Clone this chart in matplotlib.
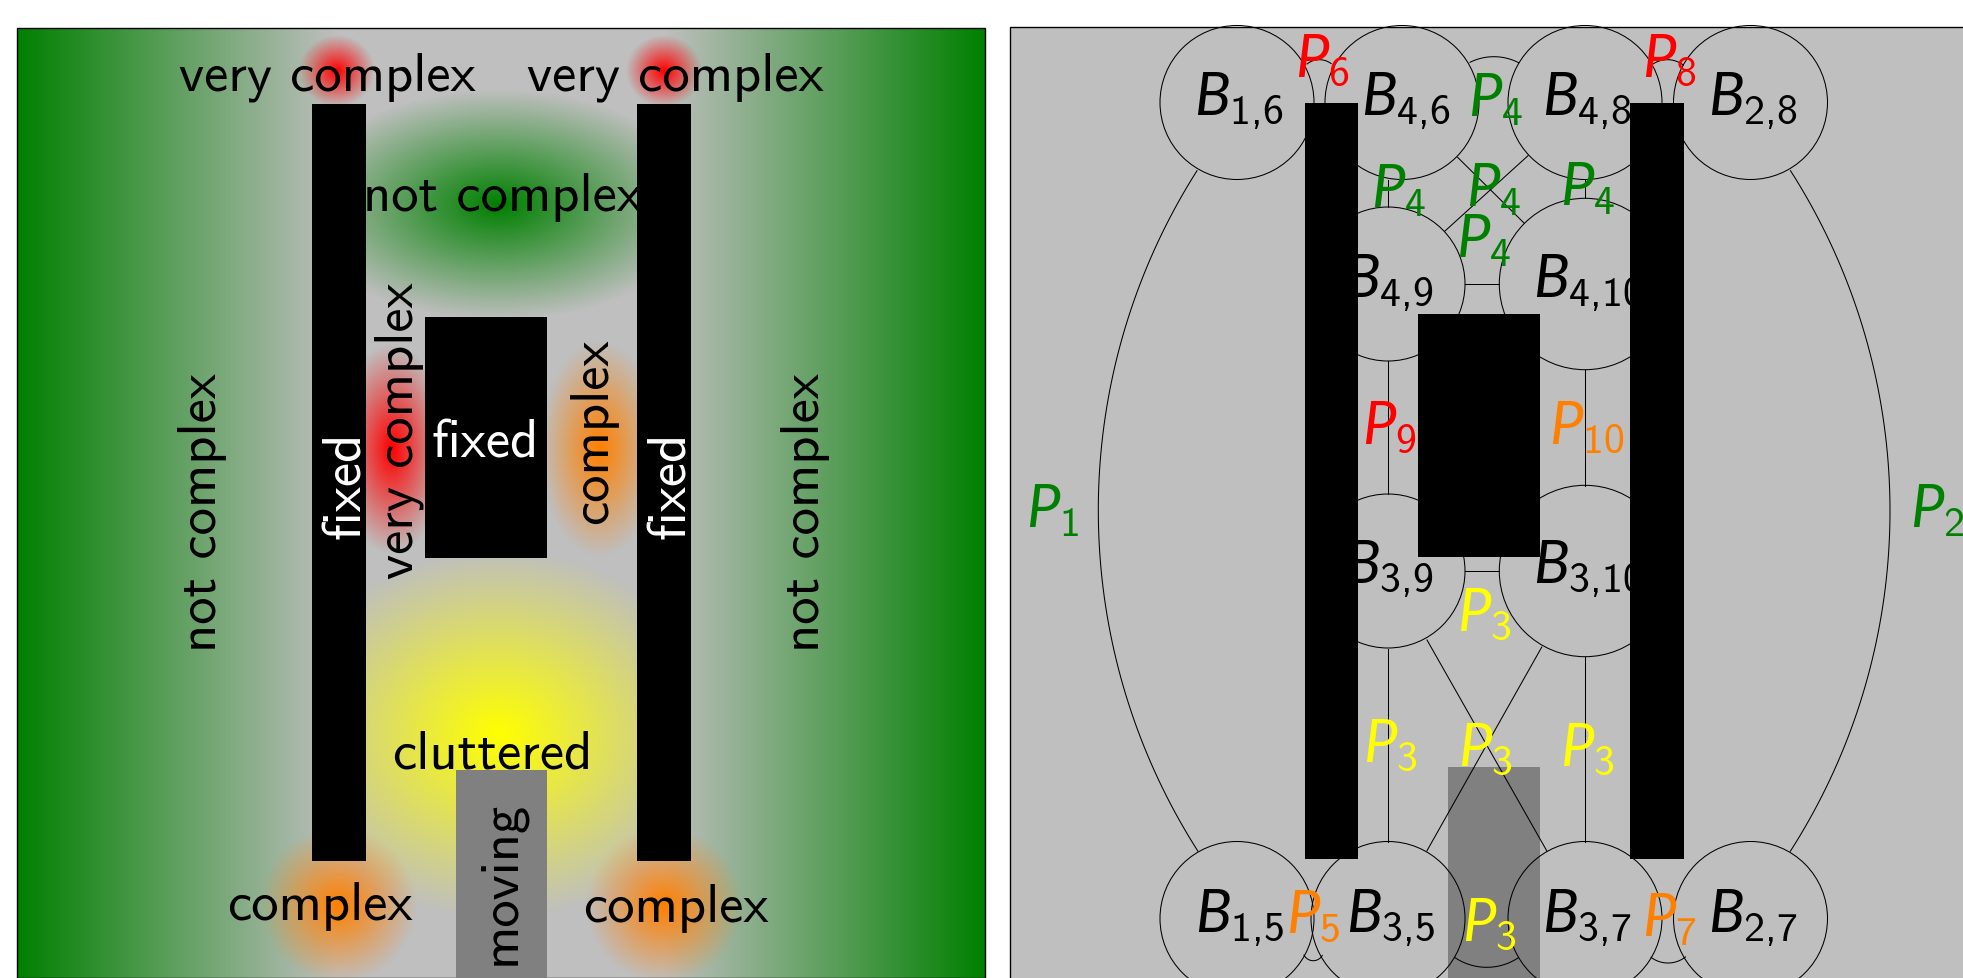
import numpy as np
import matplotlib
matplotlib.use("Agg")
import matplotlib.pyplot as plt
from matplotlib.patches import Circle, Rectangle

plt.rcParams["mathtext.fontset"] = "custom"
plt.rcParams["mathtext.rm"] = "cmss10"
plt.rcParams["mathtext.it"] = "Lato:italic"
plt.rcParams["mathtext.bf"] = "cmss10"
plt.rcParams["axes.unicode_minus"] = False

W, H = 1963, 979
GREEN, GRAY, RED, ORANGE, YELLOW = "#008000", "#bfbfbf", "#ff0000", "#ff8000", "#ffff00"
FS = 39.3
MFS = 43

# ---- left panel
left_panel = (17, 29, 985, 979)
side_fade = (337, 664)
inner_gap = (365.5, 637)
glows = [  # cx, cy, rx, ry, colour, only between the two tall bars
    (499, 206, 205, 115, GREEN, True),
    (499, 735, 220, 185, YELLOW, True),
    (392, 450, 55, 105, RED, False),
    (600, 450, 60, 108, ORANGE, False),
    (337, 72, 38, 36, RED, False),
    (664, 72, 38, 36, RED, False),
    (339, 906, 78, 78, ORANGE, False),
    (664, 906, 78, 78, ORANGE, False),
]
left_black = [(312, 105, 365.5, 862), (637, 105, 690.6, 862), (425, 318, 547, 559)]
left_gray = [(456, 771, 547, 979)]
left_words = ["very complex", "very complex", "not complex", "fixed", "complex",
              "complex", "cluttered"]
left_word_xy = [(327, 90.5), (675.5, 90.5), (502, 211), (485.5, 458), (320, 920),
                (675.5, 922), (492.5, 769)]
left_word_col = ["k", "k", "k", "w", "k", "k", "k"]
up_words = ["very complex", "complex", "not complex", "not complex", "fixed", "fixed", "moving"]
up_word_xy = [(412, 431), (607, 431), (216, 513), (819, 513), (360, 485), (685, 485), (514.5, 883)]
up_word_col = ["k", "k", "k", "k", "w", "w", "k"]

# ---- right panel
right_panel = (1010, 28, 2100, 1100)
circle_names = ["B16", "B46", "B48", "B28", "B49", "B410", "B39", "B310", "B15", "B35", "B37", "B27"]
circle_xy = [(1237, 103.5), (1402, 103.5), (1585, 103.5), (1750.5, 103.5), (1388, 285), (1585, 285),
             (1388, 572), (1585, 572), (1237, 919.5), (1388, 919.5), (1585, 919.5), (1750.5, 919.5)]
circle_r = [77, 77, 77, 77, 77, 85.7, 77, 85.7, 77, 77, 77, 77]
straight = [
    ((1457.6, 158.3), (1524, 224)), ((1528, 156.7), (1445, 232)),
    ((1388, 181), (1388, 207.7)), ((1585, 181), (1585, 199)),
    ((1465, 285), (1499, 285)), ((1388, 362), (1388, 495)), ((1585, 370.7), (1585, 486.7)),
    ((1465, 572), (1499, 572)), ((1388, 650), (1388, 842.5)), ((1585, 657.7), (1585, 842.5)),
    ((1427, 641), (1546.7, 851.7)), ((1541.8, 648), (1427, 851.7)),
]
arcs = [
    ((1197, 171.7), (1098.3, 512), (1197.8, 852)),
    ((1790.5, 171.7), (1890, 512), (1790.5, 852)),
    ((1470, 63.3), (1494.5, 57.7), (1517.8, 63.3)),
    ((1307, 65), (1319, 60.7), (1331.7, 65)),
    ((1653, 65), (1668.3, 60.7), (1681.8, 65)),
    ((1304, 956), (1313, 961.7), (1322.5, 956)),
    ((1651, 958.3), (1668.3, 964), (1685, 958.3)),
    ((1454.5, 958.3), (1486.5, 968.3), (1519, 958.3)),
]
right_black = [(1304.7, 103.5, 1358, 860), (1630, 103.5, 1684, 860), (1418, 315, 1540, 557.7)]
right_gray = [(1448, 768, 1540, 1100)]
b_labels = [r"$B_{1{,}6}$", r"$B_{4{,}6}$", r"$B_{4{,}8}$", r"$B_{2{,}8}$", r"$B_{4{,}9}$", r"$B_{4{,}10}$",
            r"$B_{3{,}9}$", r"$B_{3{,}10}$", r"$B_{1{,}5}$", r"$B_{3{,}5}$", r"$B_{3{,}7}$", r"$B_{2{,}7}$"]
b_xy = [(1194, 115), (1361, 115), (1542.5, 115), (1707.7, 115), (1344, 296.7), (1533, 296.7),
        (1344, 583), (1533, 583), (1195, 931.7), (1346, 931.7), (1542.5, 931.7), (1707.7, 931.7)]
p_labels = ["$P_{6}$", "$P_{8}$", "$P_{4}$", "$P_{4}$", "$P_{4}$", "$P_{4}$", "$P_{4}$",
            "$P_{9}$", "$P_{10}$", "$P_{1}$", "$P_{2}$", "$P_{3}$", "$P_{3}$", "$P_{3}$", "$P_{3}$",
            "$P_{3}$", "$P_{5}$", "$P_{7}$"]
p_xy = [(1295, 76.7), (1642, 76.7), (1468, 116.7), (1371, 208), (1466.5, 206.7), (1559.5, 206),
        (1456, 258), (1362, 444), (1549, 444), (1026, 527.7), (1910, 527.7), (1457, 631),
        (1363, 762), (1458.5, 766), (1559.5, 766), (1461.5, 940.7), (1286.5, 933), (1641.5, 935.7)]
p_col = [RED, RED, GREEN, GREEN, GREEN, GREEN, GREEN, RED, ORANGE, GREEN, GREEN, YELLOW,
         YELLOW, YELLOW, YELLOW, YELLOW, ORANGE, ORANGE]

# ---- drawing
fig = plt.figure(figsize=(W / 100, H / 100), dpi=100)
ax = fig.add_axes([0, 0, 1, 1])
ax.set_xlim(0, W)
ax.set_ylim(H, 0)
ax.axis("off")


def rgb(c):
    return np.array(matplotlib.colors.to_rgb(c))


def rect(b, **kw):
    return Rectangle((b[0], b[1]), b[2] - b[0], b[3] - b[1], **kw)


x0, y0, x1, y1 = left_panel
xx, yy = np.meshgrid(np.arange(x0, x1) + 0.5, np.arange(y0, y1) + 0.5)
img = np.ones(xx.shape + (3,)) * rgb(GRAY)
for mask_t in (np.clip((side_fade[0] - xx) / (side_fade[0] - x0), 0, 1),
               np.clip((xx - side_fade[1]) / (x1 - side_fade[1]), 0, 1)):
    img = img * (1 - mask_t[..., None]) + rgb(GREEN) * mask_t[..., None]
for cx, cy, rx, ry, col, inner in glows:
    t = np.clip(1 - np.hypot((xx - cx) / rx, (yy - cy) / ry), 0, 1)
    if inner:
        t = t * ((xx > inner_gap[0]) & (xx < inner_gap[1]))
    t = t[..., None]
    img = img * (1 - t) + rgb(col) * t
ax.imshow(img, extent=(x0, x1, y1, y0), aspect="equal", zorder=0, interpolation="bilinear")
ax.set_xlim(0, W)
ax.set_ylim(H, 0)
ax.add_patch(rect(left_panel, fill=False, ec="k", lw=1.0, zorder=1))
for b in left_gray:
    ax.add_patch(rect(b, fc="#808080", ec="none", zorder=2))
for b in left_black:
    ax.add_patch(rect(b, fc="k", ec="none", zorder=2))
for s, (x, y), c in zip(left_words, left_word_xy, left_word_col):
    ax.text(x, y, s, family="cmss10", fontsize=FS, color=c, ha="center", va="baseline", zorder=3)
for s, (x, y), c in zip(up_words, up_word_xy, up_word_col):
    ax.text(x, y, s, family="cmss10", fontsize=FS, color=c, ha="center", va="baseline",
            rotation=90, rotation_mode="anchor", zorder=3)

ax.add_patch(rect(right_panel, fc=GRAY, ec="k", lw=1.0, zorder=1))
for b in right_gray:
    ax.add_patch(rect(b, fc="#808080", ec="none", zorder=1.5))
LW = 0.75
for (x, y), r in zip(circle_xy, circle_r):
    ax.add_patch(Circle((x, y), r, fill=False, ec="k", lw=LW, zorder=2))
for a, b in straight:
    ax.plot([a[0], b[0]], [a[1], b[1]], color="k", lw=LW, zorder=2)


def arc_points(a, m, b, n=80):
    (ax_, ay), (bx, by), (cx, cy) = a, m, b
    d = 2 * (ax_ * (by - cy) + bx * (cy - ay) + cx * (ay - by))
    ux = ((ax_**2 + ay**2) * (by - cy) + (bx**2 + by**2) * (cy - ay) + (cx**2 + cy**2) * (ay - by)) / d
    uy = ((ax_**2 + ay**2) * (cx - bx) + (bx**2 + by**2) * (ax_ - cx) + (cx**2 + cy**2) * (bx - ax_)) / d
    r = np.hypot(ax_ - ux, ay - uy)
    t0 = np.arctan2(ay - uy, ax_ - ux)
    t1 = t0 + np.angle(np.exp(1j * (np.arctan2(by - uy, bx - ux) - t0))) * 2
    t = np.linspace(t0, t1, n)
    return ux + r * np.cos(t), uy + r * np.sin(t)


for a, m, b in arcs:
    px, py = arc_points(a, m, b)
    ax.plot(px, py, color="k", lw=LW, zorder=2)
for s, (x, y) in zip(b_labels, b_xy):
    ax.text(x, y, s, fontsize=MFS, color="k", ha="left", va="baseline", zorder=3)
for s, (x, y), c in zip(p_labels, p_xy, p_col):
    ax.text(x, y, s, fontsize=MFS, color=c, ha="left", va="baseline", zorder=3, clip_on=True)
for b in right_black:
    ax.add_patch(rect(b, fc="k", ec="none", zorder=4))

fig.savefig("out.png", dpi=100)
